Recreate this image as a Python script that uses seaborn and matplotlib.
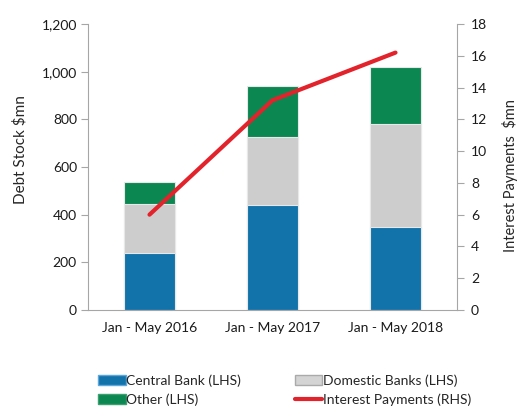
import matplotlib
matplotlib.use("Agg")
import matplotlib.pyplot as plt
from matplotlib.patches import Patch
from matplotlib.lines import Line2D
import seaborn as sns
import pandas as pd

periods = ["Jan - May 2016", "Jan - May 2017", "Jan - May 2018"]
central_bank = [240, 440, 350]
domestic_banks = [205, 286, 430]
other = [92, 214, 240]
interest_payments = [6.0, 13.2, 16.2]

c_blue = "#1272aa"
c_gray = "#cdcdcd"
c_green = "#0b8752"
c_red = "#e3232b"
c_axis = "#a6a6a6"
fs = 10

sns.set_style("white")
plt.rcParams["font.family"] = ["Lato", "DejaVu Sans"]

df = pd.DataFrame({
    "period": periods,
    "cb": central_bank,
    "cb_dom": [a + b for a, b in zip(central_bank, domestic_banks)],
    "total": [a + b + c for a, b, c in zip(central_bank, domestic_banks, other)],
})

fig = plt.figure(figsize=(5.17, 4.09), dpi=100)
ax = fig.add_axes([88 / 517, 99 / 409, 369 / 517, 286 / 409])

# stacked bars drawn back to front from cumulative totals
edge = dict(edgecolor="#e8e8e8", linewidth=0.8)
sns.barplot(data=df, x="period", y="total", color=c_green, saturation=1, width=0.41, ax=ax, **edge)
sns.barplot(data=df, x="period", y="cb_dom", color=c_gray, saturation=1, width=0.41, ax=ax, **edge)
sns.barplot(data=df, x="period", y="cb", color=c_blue, saturation=1, width=0.41, ax=ax, **edge)

ax.set_xlim(-0.5, 2.5)
ax.set_ylim(0, 1200)
ax.set_yticks(range(0, 1201, 200))
ax.set_yticklabels([f"{v:,}" for v in range(0, 1201, 200)])
ax.set_xticks([0, 1, 2])
ax.set_xticks([-0.5, 0.5, 1.5, 2.5], minor=True)
ax.tick_params(axis="x", which="major", length=0, pad=9, labelsize=fs, colors="#1a1a1a")
ax.tick_params(axis="x", which="minor", length=5, direction="out", color=c_axis, width=0.8)
ax.tick_params(axis="y", length=5, direction="out", color=c_axis, width=0.8, labelsize=fs, colors="#1a1a1a", pad=3)
ax.tick_params(axis="y", which="both", left=True)
ax.set_xlabel("")
ax.set_ylabel("Debt Stock \\$mn", fontsize=11, va="center")
ax.yaxis.set_label_coords(-0.184, 0.56)
for s in ["top", "right"]:
    ax.spines[s].set_visible(False)
for s in ["left", "bottom"]:
    ax.spines[s].set_color(c_axis)
    ax.spines[s].set_linewidth(0.8)

ax2 = ax.twinx()
sns.lineplot(x=[0, 1, 2], y=interest_payments, color=c_red, linewidth=3, ax=ax2)
ax2.set_ylim(0, 18)
ax2.set_yticks(range(0, 19, 2))
ax2.tick_params(axis="y", right=True, length=5, direction="out", color=c_axis, width=0.8,
                labelsize=fs, colors="#1a1a1a", pad=5)
ax2.set_ylabel("Interest Payments  \\$mn", fontsize=10.5, rotation=90, va="center")
ax2.yaxis.set_label_coords(1.143, 0.47)
for s in ["top", "left", "bottom"]:
    ax2.spines[s].set_visible(False)
ax2.spines["right"].set_color(c_axis)
ax2.spines["right"].set_linewidth(0.8)
ax2.set_xlim(-0.5, 2.5)

handles = [
    Patch(facecolor=c_blue, edgecolor="#5aa8dc", label="Central Bank (LHS)"),
    Patch(facecolor=c_green, edgecolor="#3aa070", label="Other (LHS)"),
    Patch(facecolor="#d4d4d4", edgecolor="#aaaaaa", label="Domestic Banks (LHS)"),
    Line2D([0], [0], color=c_red, linewidth=3, label="Interest Payments (RHS)"),
]
fig.legend(handles=handles, ncol=2, loc="center", bbox_to_anchor=(0.551, 0.0465),
           frameon=False, fontsize=fs, handlelength=1.95, handleheight=0.7,
           handletextpad=0.05, columnspacing=3.9, labelspacing=0.45)

fig.savefig("out.png", dpi=100)
